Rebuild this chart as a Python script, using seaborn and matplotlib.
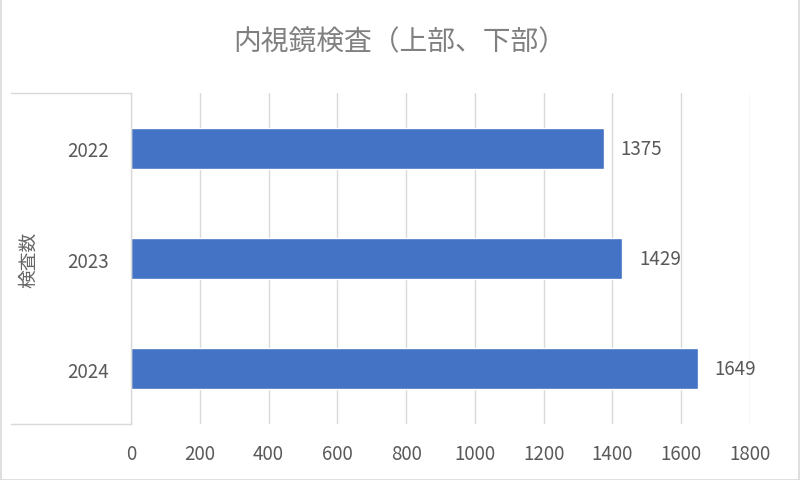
import matplotlib
matplotlib.use("Agg")
import matplotlib.pyplot as plt
import seaborn as sns
import pandas as pd
from matplotlib.patches import Rectangle

years = ["2022", "2023", "2024"]
counts = [1375, 1429, 1649]
xticks = [0, 200, 400, 600, 800, 1000, 1200, 1400, 1600, 1800]
title = "内視鏡検査（上部、下部）"
ylabel = "検査数"

sns.set_theme(style="white")
plt.rcParams['font.family'] = ['Noto Sans CJK JP', 'DejaVu Sans']

df = pd.DataFrame({"year": years, "count": counts})

fig = plt.figure(figsize=(8, 4.81), dpi=100)
ax = fig.add_axes([0.16375, 0.1164, 0.77375, 0.688])

sns.barplot(data=df, x="count", y="year", orient="h", color="#4472C4",
            width=0.37, ax=ax, saturation=1)

ax.set_xlim(0, 1800)
ax.set_xticks(xticks)
ax.set_xticklabels([str(t) for t in xticks])
ax.set_ylim(2.5, -0.5)
ax.grid(axis="x", color="#d9d9d9", linewidth=1)
ax.set_axisbelow(True)
for s in ["top", "right", "bottom"]:
    ax.spines[s].set_visible(False)
ax.spines["left"].set_color("#d9d9d9")
ax.spines["left"].set_linewidth(1)
ax.tick_params(axis="both", length=0, labelsize=13.5, colors="#595959")
ax.tick_params(axis="x", pad=14)
ax.tick_params(axis="y", pad=16)
ax.set_xlabel("")
ax.set_ylabel(ylabel, fontsize=13.5, color="#666666")
ax.yaxis.set_label_coords(-0.148, 0.5)

for c in ax.containers:
    ax.bar_label(c, labels=[str(v) for v in counts], padding=12,
                 fontsize=13.5, color="#595959")

# category axis box lines (top and bottom)
for yy in [-0.5, 2.5]:
    ax.plot([-0.194, 0], [yy, yy], transform=ax.get_yaxis_transform(),
            color="#d9d9d9", linewidth=1, clip_on=False)

fig.text(0.5, 0.912, title, ha="center", va="center", fontsize=20, color="#808080")

fig.patches.append(Rectangle((0.001, 0.001), 0.998, 0.998, transform=fig.transFigure,
                             fill=False, edgecolor="#d9d9d9", linewidth=1.2))
fig.savefig("out.png", dpi=100)
